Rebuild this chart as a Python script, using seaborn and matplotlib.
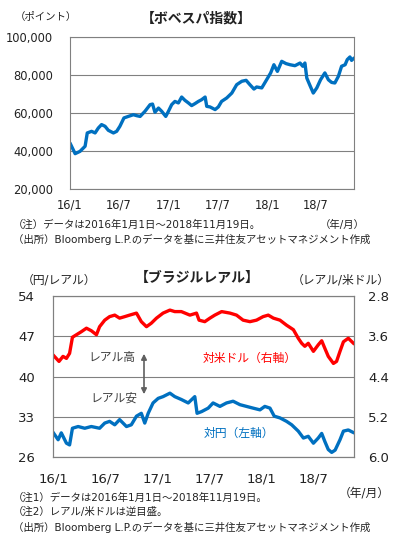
import pandas as pd
import matplotlib.pyplot as plt
import seaborn as sns

# Bovespa index (points)
bov_dates = ["2016-01-01", "2016-01-20", "2016-02-07", "2016-02-26", "2016-03-05", "2016-03-21",
             "2016-04-03", "2016-04-15", "2016-04-27", "2016-05-10", "2016-05-22", "2016-06-10",
             "2016-06-22", "2016-07-04", "2016-07-19", "2016-08-04", "2016-08-23", "2016-09-04",
             "2016-09-17", "2016-10-05", "2016-10-24", "2016-11-02", "2016-11-11", "2016-11-24",
             "2016-12-06", "2016-12-21", "2016-12-31", "2017-01-12", "2017-01-24", "2017-02-06",
             "2017-02-18", "2017-03-02", "2017-03-15", "2017-03-27", "2017-04-08", "2017-04-21",
             "2017-05-03", "2017-05-16", "2017-05-22", "2017-06-03", "2017-06-22", "2017-07-04",
             "2017-07-16", "2017-08-04", "2017-08-23", "2017-09-10", "2017-09-29", "2017-10-15",
             "2017-10-29", "2017-11-13", "2017-11-23", "2017-12-12", "2017-12-30", "2018-01-14",
             "2018-01-26", "2018-02-08", "2018-02-24", "2018-03-12", "2018-03-27", "2018-04-14",
             "2018-05-03", "2018-05-13", "2018-05-21", "2018-05-28", "2018-06-09", "2018-06-21",
             "2018-07-04", "2018-07-18", "2018-08-03", "2018-08-16", "2018-08-28", "2018-09-09",
             "2018-09-22", "2018-10-04", "2018-10-17", "2018-10-25", "2018-11-04", "2018-11-10",
             "2018-11-19"]
bov_values = [44200, 38600, 39800, 42500, 49500, 50350,
              49500, 52100, 53900, 53000, 50900, 49500,
              50350, 53000, 57400, 58200, 59100, 58600,
              58200, 60900, 64400, 64700, 60400, 62600,
              60900, 58200, 60900, 64400, 66100, 65300,
              68400, 66700, 65300, 63900, 64900, 66100,
              67000, 68400, 63500, 63200, 61800, 63200,
              66100, 67900, 70500, 74900, 76700, 77200,
              74900, 72600, 73700, 73200, 77500, 81100,
              85400, 81900, 87200, 86000, 85400, 84900,
              86300, 84600, 86300, 78400, 74400, 70500,
              73200, 77500, 81100, 77500, 76100, 75800,
              79300, 84600, 85400, 88100, 89500, 87700,
              88900]

# Real per US dollar (right axis, inverted)
usd_dates = ["2016-01-01", "2016-01-22", "2016-02-05", "2016-02-17", "2016-02-28", "2016-03-09",
             "2016-03-23", "2016-04-09", "2016-04-27", "2016-05-14", "2016-06-01", "2016-06-12",
             "2016-06-30", "2016-07-17", "2016-08-04", "2016-08-21", "2016-09-08", "2016-09-25",
             "2016-10-19", "2016-11-05", "2016-11-23", "2016-12-10", "2016-12-28", "2017-01-20",
             "2017-02-13", "2017-03-02", "2017-03-25", "2017-04-24", "2017-05-17", "2017-05-26",
             "2017-06-15", "2017-07-03", "2017-07-20", "2017-08-13", "2017-09-11", "2017-10-04",
             "2017-10-27", "2017-11-20", "2017-12-13", "2018-01-05", "2018-01-23", "2018-02-10",
             "2018-03-05", "2018-03-28", "2018-04-21", "2018-05-08", "2018-05-20", "2018-05-31",
             "2018-06-12", "2018-06-30", "2018-07-17", "2018-07-29", "2018-08-09", "2018-08-21",
             "2018-09-08", "2018-09-19", "2018-10-01", "2018-10-13", "2018-10-30", "2018-11-19"]
usd_values = [3.97, 4.10, 4.00, 4.04, 3.94, 3.62,
              3.57, 3.51, 3.44, 3.49, 3.57, 3.41,
              3.28, 3.21, 3.18, 3.24, 3.21, 3.18,
              3.14, 3.31, 3.41, 3.34, 3.24, 3.14,
              3.08, 3.11, 3.11, 3.18, 3.14, 3.28,
              3.31, 3.24, 3.18, 3.11, 3.14, 3.18,
              3.28, 3.31, 3.28, 3.21, 3.18, 3.24,
              3.28, 3.38, 3.47, 3.64, 3.74, 3.80,
              3.74, 3.90, 3.77, 3.69, 3.84, 4.00,
              4.14, 4.10, 3.90, 3.71, 3.64, 3.75]

# Yen per real (left axis)
jpy_dates = ["2016-01-01", "2016-01-19", "2016-01-30", "2016-02-17", "2016-02-28", "2016-03-09",
             "2016-03-29", "2016-04-21", "2016-05-14", "2016-06-12", "2016-06-30", "2016-07-17",
             "2016-08-04", "2016-08-21", "2016-09-14", "2016-10-01", "2016-10-19", "2016-11-05",
             "2016-11-17", "2016-11-29", "2016-12-16", "2017-01-03", "2017-01-20", "2017-02-13",
             "2017-03-02", "2017-03-25", "2017-04-18", "2017-05-11", "2017-05-19", "2017-06-04",
             "2017-06-27", "2017-07-14", "2017-08-07", "2017-08-30", "2017-09-22", "2017-10-16",
             "2017-11-08", "2017-12-01", "2017-12-25", "2018-01-11", "2018-01-29", "2018-02-13",
             "2018-03-05", "2018-03-28", "2018-04-15", "2018-05-08", "2018-05-26", "2018-06-12",
             "2018-06-30", "2018-07-17", "2018-07-29", "2018-08-09", "2018-08-21", "2018-09-02",
             "2018-09-14", "2018-10-01", "2018-10-13", "2018-10-30", "2018-11-19"]
jpy_values = [30.3, 29.0, 30.2, 28.4, 28.1, 31.0,
              31.3, 31.0, 31.3, 31.0, 31.9, 32.2,
              31.6, 32.5, 31.3, 31.6, 33.1, 33.6,
              31.9, 33.6, 35.4, 36.2, 36.5, 37.1,
              36.5, 36.0, 35.4, 36.5, 33.6, 33.9,
              34.5, 35.4, 34.8, 35.4, 35.7, 35.1,
              34.8, 34.5, 34.2, 34.8, 34.5, 33.1,
              32.8, 32.2, 31.6, 30.5, 29.3, 29.6,
              28.4, 29.3, 30.1, 28.7, 27.3, 26.8,
              27.2, 29.0, 30.5, 30.7, 30.2]

tick_dates = ["2016-01-01", "2016-07-01", "2017-01-01", "2017-07-01", "2018-01-01", "2018-07-01"]
tick_labels = ["16/1", "16/7", "17/1", "17/7", "18/1", "18/7"]
bov_ticks = [20000, 40000, 60000, 80000, 100000]
jpy_ticks = [26, 33, 40, 47, 54]
usd_ticks = [2.8, 3.6, 4.4, 5.2, 6.0]

blue = "#0070C0"
red = "#FF0000"
gray = "#808080"
txt = "#222222"

sns.set_theme(style="white")
plt.rcParams['font.family'] = ['DejaVu Sans', 'Noto Sans CJK JP']

W, H = 395, 541
fig = plt.figure(figsize=(W / 100, H / 100), dpi=100)


def fx(px):
    return px / W


def fy(py):
    return 1 - py / H


def style_axes(ax, size, xpad):
    for s in ax.spines.values():
        s.set_color(gray)
        s.set_linewidth(0.8)
    ax.set_xlim(pd.Timestamp("2016-01-01"), pd.Timestamp("2018-11-19"))
    ax.set_xticks(pd.to_datetime(tick_dates))
    ax.set_xticklabels(tick_labels)
    ax.tick_params(axis='x', direction='in', length=4, color=gray, width=0.8,
                   labelsize=size, labelcolor=txt, pad=xpad)
    ax.grid(axis='y', color=gray, linewidth=0.8)
    ax.set_xlabel("")
    ax.set_ylabel("")


# --- top: Bovespa ---
ax1 = fig.add_axes([fx(70), fy(189), 284 / W, 152 / H])
bov = pd.DataFrame({'date': pd.to_datetime(bov_dates), 'value': bov_values})
sns.lineplot(data=bov, x='date', y='value', ax=ax1, color=blue, linewidth=2.4)
style_axes(ax1, 8.3, 7)
ax1.set_ylim(20000, 100000)
ax1.set_yticks(bov_ticks)
ax1.set_yticklabels([f"{v:,}" for v in bov_ticks])
ax1.tick_params(axis='y', length=0, labelsize=8.3, labelcolor=txt, pad=12)

fig.text(fx(15), fy(17), "（ポイント）", fontsize=7.5, color=txt, va='center')
fig.text(fx(196), fy(18), "【ボベスパ指数】", fontsize=10, fontweight='bold', color=txt,
         ha='center', va='center')
fig.text(fx(365), fy(225), "（年/月）", fontsize=7.5, color=txt, ha='right', va='center')
fig.text(fx(13), fy(225), "（注）データは2016年1月1日～2018年11月19日。", fontsize=7.5, color=txt, va='center')
fig.text(fx(13), fy(239), "（出所）Bloomberg L.P.のデータを基に三井住友アセットマネジメント作成",
         fontsize=7.5, color=txt, va='center')

# --- bottom: Brazilian real ---
ax2 = fig.add_axes([fx(53), fy(457), 301 / W, 161 / H])
jpy = pd.DataFrame({'date': pd.to_datetime(jpy_dates), 'value': jpy_values})
sns.lineplot(data=jpy, x='date', y='value', ax=ax2, color=blue, linewidth=2.4)
style_axes(ax2, 9.5, 11)
ax2.set_ylim(26, 54)
ax2.set_yticks(jpy_ticks)
ax2.tick_params(axis='y', length=0, labelsize=9.5, labelcolor=txt, pad=13)

ax3 = ax2.twinx()
usd = pd.DataFrame({'date': pd.to_datetime(usd_dates), 'value': usd_values})
sns.lineplot(data=usd, x='date', y='value', ax=ax3, color=red, linewidth=2.4)
ax3.set_ylim(6.0, 2.8)
ax3.set_yticks(usd_ticks)
ax3.set_yticklabels([f"{v:.1f}" for v in usd_ticks])
ax3.tick_params(axis='y', length=0, labelsize=9.5, labelcolor=txt, pad=10)
ax3.set_ylabel("")
ax3.grid(False)
for s in ax3.spines.values():
    s.set_color(gray)
    s.set_linewidth(0.8)

fig.text(fx(22), fy(280), "（円/レアル）", fontsize=8.5, color=txt, va='center')
fig.text(fx(197), fy(278), "【ブラジルレアル】", fontsize=10, fontweight='bold', color=txt,
         ha='center', va='center')
fig.text(fx(390), fy(280), "（レアル/米ドル）", fontsize=8.5, color=txt, ha='right', va='center')

fig.text(fx(88), fy(358), "レアル高", fontsize=8.5, color="#404040", va='center')
fig.text(fx(90), fy(398), "レアル安", fontsize=8.5, color="#404040", va='center')
fig.add_artist(plt.matplotlib.patches.FancyArrowPatch(
    (fx(144), fy(351)), (fx(144), fy(397)), transform=fig.transFigure,
    arrowstyle='<|-|>', mutation_scale=8, color="#606060", linewidth=1.2))
fig.text(fx(203), fy(358), "対米ドル（右軸）", fontsize=8.5, color=red, va='center')
fig.text(fx(204), fy(433), "対円（左軸）", fontsize=8.5, color=blue, va='center')

fig.text(fx(390), fy(493), "（年/月）", fontsize=8.5, color=txt, ha='right', va='center')
fig.text(fx(13), fy(498), "（注1）データは2016年1月1日～2018年11月19日。", fontsize=7.5, color=txt, va='center')
fig.text(fx(13), fy(512), "（注2）レアル/米ドルは逆目盛。", fontsize=7.5, color=txt, va='center')
fig.text(fx(13), fy(527), "（出所）Bloomberg L.P.のデータを基に三井住友アセットマネジメント作成",
         fontsize=7.5, color=txt, va='center')

fig.savefig("out.png", dpi=100)
